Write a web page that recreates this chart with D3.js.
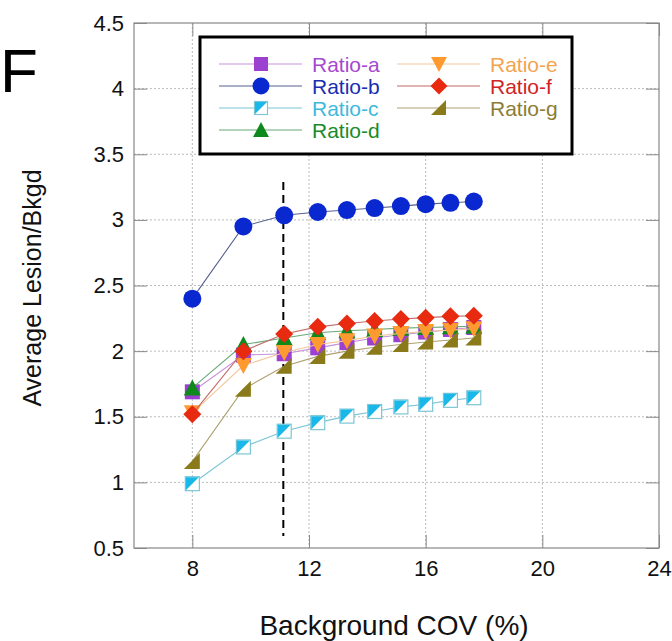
<!DOCTYPE html>
<html>
<head>
<meta charset="utf-8">
<script src="https://cdn.jsdelivr.net/npm/d3@7"></script>
<style>
  body { margin: 0; background: #fff; }
  text { font-family: "Liberation Sans", Arial, sans-serif; }
</style>
</head>
<body>
<script>
var width = 672, height = 641;

// background COV values (x)
var cov = [8, 9.75, 11.15, 12.3, 13.3, 14.25, 15.15, 16.0, 16.85, 17.65];

var ratioA = [1.69, 1.97, 1.98, 2.025, 2.065, 2.10, 2.125, 2.145, 2.165, 2.18];
var ratioB = [2.40, 2.95, 3.035, 3.06, 3.075, 3.09, 3.105, 3.12, 3.13, 3.14];
var ratioC = [0.99, 1.27, 1.39, 1.455, 1.505, 1.54, 1.575, 1.595, 1.625, 1.645];
var ratioD = [1.72, 2.05, 2.10, 2.14, 2.155, 2.165, 2.175, 2.18, 2.185, 2.19];
var ratioE = [1.53, 1.89, 1.99, 2.05, 2.08, 2.115, 2.135, 2.15, 2.16, 2.17];
var ratioF = [1.52, 2.0, 2.13, 2.185, 2.21, 2.23, 2.245, 2.255, 2.265, 2.27];
var ratioG = [1.16, 1.71, 1.885, 1.96, 2.0, 2.03, 2.05, 2.07, 2.085, 2.10];

var xTicks = [8, 12, 16, 20, 24];
var yTicks = [0.5, 1, 1.5, 2, 2.5, 3, 3.5, 4, 4.5];
var cutoff = 11.12;

var series = [
  { name: "Ratio-a", values: ratioA, shape: "square", fill: "#9b40d0", line: "#c592d8", text: "#a648d0" },
  { name: "Ratio-b", values: ratioB, shape: "circle", fill: "#0a28d0", line: "#55608f", text: "#1b2db0" },
  { name: "Ratio-c", values: ratioC, shape: "halfsquare", fill: "#1ab8e8", line: "#7cc6d6", text: "#3fb9dc" },
  { name: "Ratio-d", values: ratioD, shape: "triangle", fill: "#0e8a1c", line: "#6aa878", text: "#1a8a2a" },
  { name: "Ratio-e", values: ratioE, shape: "triangledown", fill: "#ff9a30", line: "#f2c89a", text: "#f3a450" },
  { name: "Ratio-f", values: ratioF, shape: "diamond", fill: "#e82a10", line: "#c46a6a", text: "#cf2424" },
  { name: "Ratio-g", values: ratioG, shape: "righttri", fill: "#8a7a1a", line: "#b0a070", text: "#8c7c34" }
];

var x = d3.scaleLinear([6, 24], [134, 659]);
var y = d3.scaleLinear([0.5, 4.5], [548, 23]);

var svg = d3.select("body").append("svg")
    .attr("width", width)
    .attr("height", height);

// grid
svg.append("g").selectAll("line")
    .data(xTicks.filter(d => d < 24))
    .join("line")
    .attr("x1", d => x(d)).attr("x2", d => x(d))
    .attr("y1", y(4.5)).attr("y2", y(0.5))
    .attr("stroke", "#bbb").attr("stroke-dasharray", "2,2");
svg.append("g").selectAll("line")
    .data(yTicks.filter(d => d > 0.5 && d < 4.5))
    .join("line")
    .attr("x1", x(6)).attr("x2", x(24))
    .attr("y1", d => y(d)).attr("y2", d => y(d))
    .attr("stroke", "#bbb").attr("stroke-dasharray", "2,2");

// frame and inward ticks on all sides
svg.append("rect")
    .attr("x", x(6)).attr("y", y(4.5))
    .attr("width", x(24) - x(6)).attr("height", y(0.5) - y(4.5))
    .attr("fill", "none").attr("stroke", "#888").attr("stroke-width", 1.2);

svg.append("g")
    .attr("transform", `translate(0,${y(0.5)})`)
    .call(d3.axisBottom(x).tickValues(xTicks).tickSize(-13).tickPadding(12).tickFormat(d3.format("d")))
    .call(g => g.select(".domain").remove())
    .call(g => g.selectAll(".tick line").attr("stroke", "#888"))
    .call(g => g.selectAll(".tick text").attr("font-size", 22).attr("fill", "#111")
        .attr("font-family", "Liberation Sans, Arial, sans-serif"));
svg.append("g")
    .attr("transform", `translate(0,${y(4.5)})`)
    .call(d3.axisTop(x).tickValues(xTicks).tickSize(-13).tickFormat(""))
    .call(g => g.select(".domain").remove())
    .call(g => g.selectAll(".tick line").attr("stroke", "#888"));
svg.append("g")
    .attr("transform", `translate(${x(6)},0)`)
    .call(d3.axisLeft(y).tickValues(yTicks).tickSize(-13).tickPadding(10).tickFormat(d => d))
    .call(g => g.select(".domain").remove())
    .call(g => g.selectAll(".tick line").attr("stroke", "#888"))
    .call(g => g.selectAll(".tick text").attr("font-size", 22).attr("fill", "#111")
        .attr("font-family", "Liberation Sans, Arial, sans-serif"));
svg.append("g")
    .attr("transform", `translate(${x(24)},0)`)
    .call(d3.axisRight(y).tickValues(yTicks).tickSize(-13).tickFormat(""))
    .call(g => g.select(".domain").remove())
    .call(g => g.selectAll(".tick line").attr("stroke", "#888"));

// dashed cutoff line
svg.append("line")
    .attr("x1", x(cutoff)).attr("x2", x(cutoff))
    .attr("y1", 182).attr("y2", 536)
    .attr("stroke", "#000").attr("stroke-width", 2)
    .attr("stroke-dasharray", "8,5");

function drawMarker(g, shape, fill, s) {
  var h = s / 2;
  if (shape === "circle") {
    g.append("circle").attr("r", h + 1.5).attr("fill", fill);
  } else if (shape === "square") {
    g.append("rect").attr("x", -h).attr("y", -h).attr("width", s).attr("height", s).attr("fill", fill);
  } else if (shape === "halfsquare") {
    g.append("rect").attr("x", -h + 0.5).attr("y", -h + 0.5).attr("width", s - 1).attr("height", s - 1)
        .attr("fill", "#fff").attr("stroke", "#7cc6d6").attr("stroke-width", 1.2);
    g.append("path").attr("d", `M${-h + 1},${-h + 1}L${h - 1},${-h + 1}L${-h + 1},${h - 1}Z`).attr("fill", fill);
  } else if (shape === "triangle") {
    g.append("path").attr("d", `M0,${-h - 1}L${h + 1},${h}L${-h - 1},${h}Z`).attr("fill", fill);
  } else if (shape === "triangledown") {
    g.append("path").attr("d", `M${-h - 1},${-h}L${h + 1},${-h}L0,${h + 1}Z`).attr("fill", fill);
  } else if (shape === "diamond") {
    g.append("path").attr("d", `M0,${-h - 1.5}L${h + 1.5},0L0,${h + 1.5}L${-h - 1.5},0Z`).attr("fill", fill);
  } else if (shape === "righttri") {
    g.append("path").attr("d", `M${-h - 1},${h}L${h},${h}L${h},${-h - 1}Z`).attr("fill", fill);
  }
}

var line = d3.line().x((d, i) => x(cov[i])).y(d => y(d));

series.forEach(function (s) {
  svg.append("path")
      .attr("d", line(s.values))
      .attr("fill", "none")
      .attr("stroke", s.line)
      .attr("stroke-width", 1.1);
  s.values.forEach(function (v, i) {
    var g = svg.append("g").attr("transform", `translate(${x(cov[i])},${y(v)})`);
    drawMarker(g, s.shape, s.fill, 15);
  });
});

// legend
var legend = svg.append("g");
legend.append("rect")
    .attr("x", 200).attr("y", 37)
    .attr("width", 372).attr("height", 117)
    .attr("fill", "#fff").attr("stroke", "#000").attr("stroke-width", 3);

series.forEach(function (s, i) {
  var col = i < 4 ? 0 : 1;
  var row = i < 4 ? i : i - 4;
  var x0 = col === 0 ? 219 : 397;
  var yy = 64 + row * 22;
  var item = legend.append("g").attr("transform", `translate(${x0},${yy})`);
  item.append("line").attr("x1", 0).attr("x2", 83)
      .attr("stroke", s.line).attr("stroke-width", 1.1);
  var m = item.append("g").attr("transform", "translate(42,0)");
  drawMarker(m, s.shape, s.fill, 14);
  item.append("text")
      .attr("x", 93).attr("y", 7.5)
      .attr("font-size", 21)
      .attr("fill", s.text)
      .text(s.name);
});

// axis titles
svg.append("text")
    .attr("transform", `translate(41,288) rotate(-90)`)
    .attr("text-anchor", "middle")
    .attr("font-size", 25)
    .attr("fill", "#111")
    .text("Average Lesion/Bkgd");

svg.append("text")
    .attr("x", 394).attr("y", 635)
    .attr("text-anchor", "middle")
    .attr("font-size", 28)
    .attr("fill", "#111")
    .text("Background COV (%)");

svg.append("text")
    .attr("x", 0).attr("y", 92)
    .attr("font-size", 62)
    .attr("fill", "#000")
    .text("F");
</script>
</body>
</html>
